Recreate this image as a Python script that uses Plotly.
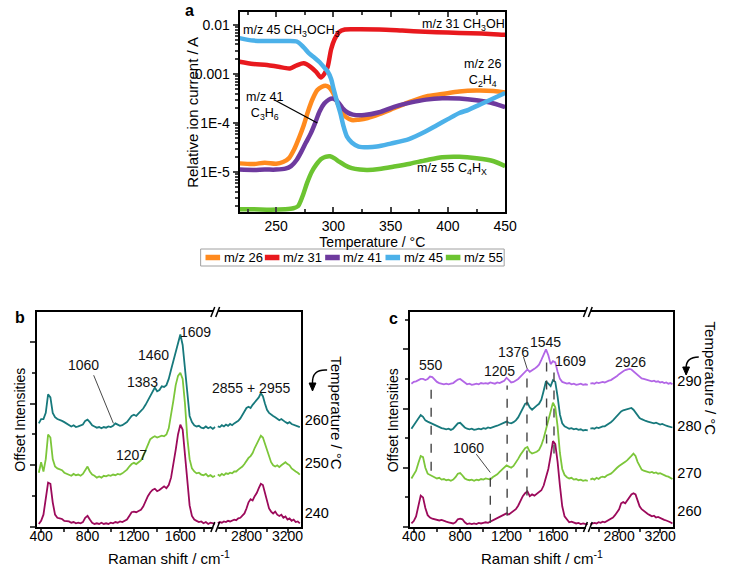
import plotly.graph_objects as go

W, H = 738, 570
FONT = "Arial, Liberation Sans, sans-serif"


def px(x):
    return x / W


def py(y):
    return 1 - y / H


# ---------------- Panel a: mass spectrometry ----------------
T26 = [218, 230, 240, 250, 256, 261, 266, 270, 274, 278, 282, 286, 290, 293, 296, 299, 302, 305, 308, 311,
       316, 322, 330, 340, 353, 365, 381, 395, 410, 425, 440, 450]
I26 = [1.5e-5, 1.45e-5, 1.55e-5, 1.48e-5, 1.6e-5, 1.9e-5, 3.0e-5, 5.0e-5, 8.9e-5, 1.78e-4, 3.16e-4, 4.7e-4,
       5.5e-4, 5.75e-4, 5.4e-4, 4.4e-4, 3.16e-4, 2.14e-4, 1.58e-4, 1.32e-4, 1.15e-4, 1.17e-4, 1.26e-4,
       1.51e-4, 2.0e-4, 2.6e-4, 3.5e-4, 3.9e-4, 4.4e-4, 4.6e-4, 4.5e-4, 4.2e-4]

T31 = [218, 230, 242, 252, 262, 268, 274, 280, 285, 289, 292, 295, 298, 301, 305, 310, 320, 340, 360, 380,
       400, 420, 440, 450]
I31 = [0.00178, 0.0016, 0.00153, 0.0014, 0.0013, 0.0015, 0.00165, 0.0014, 0.0011, 0.00085, 0.0010, 0.00141,
       0.0032, 0.0051, 0.0072, 0.0081, 0.0082, 0.0081, 0.0077, 0.0073, 0.0070, 0.0068, 0.0065, 0.0063]

T41 = [218, 230, 240, 250, 258, 263, 268, 272, 276, 280, 284, 288, 292, 296, 299, 302, 305, 308, 312, 317,
       327, 340, 353, 367, 381, 395, 410, 425, 440, 450]
I41 = [1.12e-5, 1.1e-5, 1.12e-5, 1.12e-5, 1.17e-5, 1.32e-5, 1.78e-5, 2.6e-5, 4.0e-5, 6.0e-5, 1.0e-4, 1.74e-4,
       2.5e-4, 3.0e-4, 3.16e-4, 2.95e-4, 2.5e-4, 2.0e-4, 1.66e-4, 1.48e-4, 1.45e-4, 1.66e-4, 2.14e-4,
       2.6e-4, 3.0e-4, 3.2e-4, 3.16e-4, 2.9e-4, 2.5e-4, 2.1e-4]

T45 = [218, 230, 240, 255, 268, 274, 279, 284, 288, 292, 295, 298, 300, 303, 306, 309, 312, 316, 322, 330,
       338, 350, 366, 380, 390, 400, 410, 418, 430, 440, 450]
I45 = [5.4e-3, 4.8e-3, 4.7e-3, 4.7e-3, 4.6e-3, 3.5e-3, 2.6e-3, 2.1e-3, 1.74e-3, 1.35e-3, 1.12e-3, 7.9e-4,
       5.1e-4, 2.8e-4, 1.6e-4, 8.3e-5, 5.2e-5, 4.0e-5, 3.3e-5, 3.2e-5, 3.3e-5, 3.8e-5, 4.7e-5, 6.6e-5,
       8.9e-5, 1.2e-4, 1.6e-4, 1.86e-4, 2.5e-4, 3.2e-4, 4.1e-4]

T55 = [218, 230, 245, 258, 265, 269, 273, 277, 281, 285, 289, 293, 297, 301, 305, 310, 316, 323, 330, 340,
       353, 367, 381, 395, 410, 425, 440, 450]
I55 = [1.74e-6, 1.74e-6, 1.7e-6, 1.74e-6, 1.82e-6, 2.0e-6, 3.2e-6, 6.0e-6, 1.0e-5, 1.41e-5, 1.82e-5,
       2.04e-5, 2.1e-5, 1.9e-5, 1.62e-5, 1.38e-5, 1.2e-5, 1.12e-5, 1.1e-5, 1.15e-5, 1.29e-5, 1.48e-5,
       1.74e-5, 2.0e-5, 2.04e-5, 1.9e-5, 1.66e-5, 1.32e-5]

MS_NAMES = ["m/z 26", "m/z 31", "m/z 41", "m/z 45", "m/z 55"]
MS_COLORS = ["#FF8A1E", "#E8191E", "#6E3A9E", "#4CB1E9", "#6CC431"]
A_YTICKS = [1e-5, 1e-4, 1e-3, 1e-2]
A_YTICKTEXT = ["1E-5", "1E-4", "0.001", "0.01"]
A_XTICKS = [250, 300, 350, 400, 450]

# ---------------- Raman wavenumber grids ----------------
WN_L = [380, 400, 420, 440, 460, 480, 500, 520, 540, 560, 580, 600, 620, 640, 660, 680, 700, 720, 740, 760,
        780, 800, 820, 840, 860, 880, 900, 920, 940, 960, 980, 1000, 1020, 1040, 1060, 1080, 1100, 1120,
        1140, 1160, 1180, 1200, 1220, 1240, 1260, 1280, 1300, 1320, 1340, 1360, 1380, 1400, 1420, 1440,
        1460, 1480, 1500, 1520, 1540, 1560, 1580, 1600, 1620, 1640, 1660, 1680, 1700, 1720, 1740, 1760,
        1780, 1800, 1820, 1840, 1860, 1880, 1900]
WN_R = [2520, 2540, 2560, 2580, 2600, 2620, 2640, 2660, 2680, 2700, 2720, 2740, 2760, 2780, 2800, 2820, 2840,
        2860, 2880, 2900, 2920, 2940, 2960, 2980, 3000, 3020, 3040, 3060, 3080, 3100, 3120, 3140, 3160,
        3180, 3200, 3220, 3240, 3260, 3280, 3300, 3320]

# ---------------- Panel b spectra (offset intensities) ----------------
B240_L = [0.05, 0.10, 0.20, 0.50, 0.72, 0.70, 0.40, 0.20, 0.15, 0.14, 0.13, 0.10, 0.10, 0.09, 0.07, 0.08,
          0.06, 0.07, 0.06, 0.08, 0.15, 0.18, 0.12, 0.07, 0.05, 0.06, 0.05, 0.07, 0.05, 0.06, 0.05, 0.07,
          0.06, 0.08, 0.07, 0.09, 0.08, 0.10, 0.12, 0.18, 0.24, 0.25, 0.24, 0.26, 0.28, 0.33, 0.42, 0.50,
          0.56, 0.60, 0.62, 0.58, 0.60, 0.63, 0.66, 0.63, 0.68, 0.80, 1.00, 1.25, 1.50, 1.66, 1.58, 1.20,
          0.70, 0.35, 0.18, 0.12, 0.10, 0.08, 0.09, 0.06, 0.08, 0.05, 0.07, 0.06, 0.05]
B240_R = [0.06, 0.08, 0.07, 0.09, 0.08, 0.10, 0.09, 0.10, 0.12, 0.11, 0.14, 0.15, 0.18, 0.22, 0.30, 0.40,
          0.45, 0.43, 0.50, 0.55, 0.63, 0.70, 0.68, 0.55, 0.42, 0.30, 0.25, 0.22, 0.25, 0.20, 0.18, 0.20,
          0.15, 0.17, 0.12, 0.14, 0.10, 0.12, 0.08, 0.09, 0.06]
B250_L = [0.88, 1.05, 0.90, 1.10, 1.50, 1.45, 1.10, 0.98, 0.95, 0.93, 0.92, 0.88, 0.86, 0.85, 0.83, 0.86,
          0.84, 0.85, 0.83, 0.86, 0.92, 0.98, 0.90, 0.85, 0.83, 0.80, 0.82, 0.80, 0.83, 0.82, 0.84, 0.83,
          0.85, 0.84, 0.86, 0.85, 0.87, 0.90, 0.93, 0.98, 1.02, 1.04, 1.02, 1.05, 1.08, 1.15, 1.25, 1.35,
          1.42, 1.45, 1.47, 1.45, 1.46, 1.48, 1.47, 1.50, 1.60, 1.80, 2.05, 2.30, 2.45, 2.50, 2.40, 2.00,
          1.45, 1.10, 0.95, 0.90, 0.87, 0.88, 0.85, 0.84, 0.86, 0.82, 0.84, 0.81, 0.83]
B250_R = [0.85, 0.83, 0.86, 0.84, 0.87, 0.86, 0.88, 0.87, 0.90, 0.90, 0.93, 0.95, 0.98, 1.02, 1.08, 1.12,
          1.15, 1.20, 1.28, 1.35, 1.42, 1.48, 1.45, 1.35, 1.22, 1.12, 1.05, 1.00, 0.98, 1.00, 0.97, 1.00,
          1.02, 1.05, 1.02, 1.00, 0.95, 0.92, 0.90, 0.88, 0.85]
B260_L = [1.68, 1.75, 1.75, 1.85, 2.15, 2.10, 1.85, 1.78, 1.75, 1.74, 1.72, 1.70, 1.68, 1.66, 1.63, 1.65,
          1.62, 1.63, 1.64, 1.66, 1.72, 1.74, 1.70, 1.65, 1.63, 1.61, 1.62, 1.60, 1.62, 1.61, 1.63, 1.62,
          1.64, 1.68, 1.66, 1.64, 1.65, 1.67, 1.70, 1.75, 1.80, 1.82, 1.80, 1.84, 1.88, 1.92, 1.98, 2.05,
          2.12, 2.20, 2.26, 2.20, 2.22, 2.28, 2.27, 2.30, 2.40, 2.55, 2.70, 2.85, 3.00, 3.12, 2.95, 2.55,
          2.10, 1.80, 1.70, 1.65, 1.63, 1.64, 1.61, 1.60, 1.63, 1.60, 1.62, 1.59, 1.62]
B260_R = [1.63, 1.62, 1.65, 1.63, 1.66, 1.64, 1.67, 1.65, 1.68, 1.70, 1.72, 1.76, 1.82, 1.88, 1.93, 1.95,
          1.93, 1.98, 2.02, 2.05, 2.10, 2.17, 2.12, 2.00, 1.90, 1.85, 1.82, 1.80, 1.78, 1.76, 1.73, 1.75,
          1.72, 1.70, 1.68, 1.70, 1.67, 1.66, 1.64, 1.63, 1.62]

# ---------------- Panel c spectra (offset intensities) ----------------
C260_L = [0.06, 0.10, 0.18, 0.35, 0.53, 0.50, 0.32, 0.20, 0.16, 0.14, 0.13, 0.12, 0.11, 0.12, 0.10, 0.09,
          0.08, 0.07, 0.06, 0.08, 0.13, 0.14, 0.13, 0.08, 0.05, 0.06, 0.05, 0.06, 0.05, 0.07, 0.06, 0.07,
          0.08, 0.07, 0.09, 0.10, 0.12, 0.14, 0.16, 0.18, 0.20, 0.23, 0.21, 0.24, 0.27, 0.30, 0.36, 0.44,
          0.52, 0.57, 0.60, 0.52, 0.55, 0.53, 0.56, 0.58, 0.62, 0.70, 0.82, 0.98, 1.20, 1.45, 1.40, 1.10,
          0.70, 0.35, 0.18, 0.12, 0.08, 0.09, 0.07, 0.06, 0.07, 0.05, 0.06, 0.05, 0.04]
C260_R = [0.05, 0.06, 0.07, 0.06, 0.08, 0.07, 0.09, 0.08, 0.10, 0.11, 0.13, 0.16, 0.20, 0.25, 0.30, 0.40,
          0.42, 0.40, 0.45, 0.50, 0.55, 0.57, 0.55, 0.45, 0.35, 0.30, 0.27, 0.25, 0.22, 0.20, 0.18, 0.19,
          0.16, 0.17, 0.15, 0.14, 0.12, 0.11, 0.10, 0.08, 0.06]
C270_L = [0.82, 0.88, 0.95, 1.08, 1.20, 1.18, 1.00, 0.90, 0.88, 0.86, 0.84, 0.82, 0.83, 0.80, 0.81, 0.79,
          0.80, 0.78, 0.80, 0.84, 0.90, 0.91, 0.87, 0.82, 0.80, 0.79, 0.80, 0.78, 0.80, 0.79, 0.81, 0.80,
          0.82, 0.81, 0.80, 0.84, 0.86, 0.89, 0.93, 0.97, 1.00, 1.04, 1.02, 1.00, 1.03, 1.08, 1.15, 1.22,
          1.28, 1.33, 1.35, 1.27, 1.24, 1.25, 1.27, 1.30, 1.38, 1.50, 1.65, 1.82, 1.98, 2.10, 2.02, 1.70,
          1.25, 0.98, 0.88, 0.84, 0.82, 0.83, 0.80, 0.81, 0.79, 0.80, 0.78, 0.79, 0.78]
C270_R = [0.80, 0.82, 0.80, 0.83, 0.81, 0.84, 0.85, 0.84, 0.87, 0.88, 0.90, 0.93, 0.97, 1.00, 1.03, 1.05,
          1.07, 1.10, 1.13, 1.16, 1.20, 1.24, 1.20, 1.10, 1.02, 0.97, 0.95, 0.94, 0.93, 0.92, 0.93, 0.91,
          0.92, 0.90, 0.91, 0.89, 0.88, 0.86, 0.85, 0.83, 0.81]
C280_L = [1.66, 1.72, 1.76, 1.84, 1.89, 1.86, 1.80, 1.78, 1.76, 1.75, 1.72, 1.70, 1.68, 1.67, 1.66, 1.65,
          1.66, 1.64, 1.66, 1.70, 1.75, 1.76, 1.72, 1.68, 1.66, 1.65, 1.66, 1.64, 1.65, 1.66, 1.65, 1.67,
          1.66, 1.68, 1.67, 1.69, 1.70, 1.71, 1.73, 1.74, 1.76, 1.78, 1.76, 1.75, 1.77, 1.80, 1.85, 1.92,
          2.00, 2.08, 2.10, 2.02, 1.98, 2.02, 2.05, 2.08, 2.15, 2.30, 2.46, 2.42, 2.38, 2.48, 2.45, 2.20,
          1.90, 1.75, 1.70, 1.68, 1.66, 1.67, 1.65, 1.66, 1.64, 1.65, 1.63, 1.64, 1.63]
C280_R = [1.66, 1.67, 1.66, 1.68, 1.67, 1.69, 1.70, 1.70, 1.72, 1.74, 1.77, 1.80, 1.84, 1.88, 1.92, 1.95,
          1.97, 1.98, 1.99, 2.00, 2.01, 1.98, 1.93, 1.88, 1.84, 1.82, 1.80, 1.79, 1.78, 1.77, 1.76, 1.75,
          1.76, 1.74, 1.73, 1.74, 1.72, 1.71, 1.70, 1.69, 1.68]
C290_L = [2.42, 2.45, 2.46, 2.48, 2.50, 2.50, 2.48, 2.50, 2.54, 2.53, 2.48, 2.45, 2.43, 2.42, 2.41, 2.42,
          2.41, 2.42, 2.43, 2.46, 2.49, 2.50, 2.47, 2.43, 2.41, 2.42, 2.40, 2.41, 2.42, 2.41, 2.43, 2.42,
          2.43, 2.42, 2.44, 2.43, 2.42, 2.44, 2.43, 2.45, 2.47, 2.52, 2.47, 2.44, 2.45, 2.47, 2.50, 2.54,
          2.58, 2.63, 2.66, 2.62, 2.64, 2.67, 2.70, 2.74, 2.82, 2.92, 3.00, 2.90, 2.75, 2.80, 2.78, 2.62,
          2.50, 2.45, 2.43, 2.42, 2.43, 2.41, 2.42, 2.40, 2.41, 2.42, 2.40, 2.41, 2.40]
C290_R = [2.42, 2.43, 2.42, 2.44, 2.43, 2.44, 2.45, 2.44, 2.46, 2.47, 2.48, 2.50, 2.52, 2.55, 2.58, 2.61,
          2.63, 2.65, 2.66, 2.67, 2.66, 2.63, 2.60, 2.56, 2.53, 2.51, 2.50, 2.49, 2.48, 2.47, 2.46, 2.47,
          2.45, 2.46, 2.44, 2.45, 2.43, 2.44, 2.42, 2.43, 2.41]

COL_MAROON = "#9C0A5B"
COL_LGREEN = "#7CC63A"
COL_TEAL = "#17797C"
COL_LAV = "#B266E6"

B_TEMPS = ["240", "250", "260"]
B_TEMP_POS = [0.23, 1.04, 1.73]
C_TEMPS = ["260", "270", "280", "290"]
C_TEMP_POS = [0.27, 0.92, 1.71, 2.47]

# ---------------- Geometry (pixels) ----------------
A_X = (238, 511)
A_Y = (12, 212)
B_XL = (30, 213.5)
B_XR = (213.5, 301)
C_XL = (413, 596.5)
C_XR = (596.5, 684)
BC_Y = (312, 527)

fig = go.Figure()

ms_T = [T26, T31, T41, T45, T55]
ms_I = [I26, I31, I41, I45, I55]
for name, col, t, v in zip(MS_NAMES, MS_COLORS, ms_T, ms_I):
    fig.add_trace(go.Scatter(x=t, y=v, name=name, mode="lines",
                             line=dict(color=col, width=4.5, shape="spline", smoothing=0.8),
                             xaxis="x", yaxis="y", showlegend=False))


def spec(xs, ys, col, xa, ya):
    fig.add_trace(go.Scatter(x=xs, y=ys, mode="lines", line=dict(color=col, width=1.8),
                             xaxis=xa, yaxis=ya, showlegend=False, hoverinfo="skip"))


for L, R, col in [(B240_L, B240_R, COL_MAROON), (B250_L, B250_R, COL_LGREEN), (B260_L, B260_R, COL_TEAL)]:
    spec(WN_L, L, col, "x2", "y2")
    spec(WN_R, R, col, "x3", "y3")
for L, R, col in [(C260_L, C260_R, COL_MAROON), (C270_L, C270_R, COL_LGREEN),
                  (C280_L, C280_R, COL_TEAL), (C290_L, C290_R, COL_LAV)]:
    spec(WN_L, L, col, "x4", "y4")
    spec(WN_R, R, col, "x5", "y5")

tickfont = dict(family=FONT, size=14, color="black")
tickfont_bc = dict(family=FONT, size=14, color="black")
titlefont = dict(family=FONT, size=14, color="black")


def xdom(p):
    return [px(p[0]), px(p[1])]


def ydom(p):
    return [py(p[1]), py(p[0])]


minor_log = []
for dec in [1e-6, 1e-5, 1e-4, 1e-3]:
    for k in range(2, 10):
        minor_log.append(k * dec)

common = dict(showgrid=False, zeroline=False, linecolor="black", linewidth=2)


def raman_x(dom, rng, major, minor):
    return dict(domain=xdom(dom), range=rng, tickvals=major, ticks="outside", ticklen=4, tickwidth=1.5,
                mirror=True, showline=True, ticklabelstandoff=-9,
                minor=dict(ticks="outside", ticklen=3, tickvals=minor),
                tickfont=tickfont_bc, **common)


def raman_y(rng, minor, xa):
    return dict(domain=ydom(BC_Y), anchor=xa, range=rng, tickvals=[0, 1, 2, 3], showticklabels=False,
                ticks="outside", ticklen=5, tickwidth=1.5, showline=True, mirror=False,
                minor=dict(ticks="outside", ticklen=3, tickvals=minor), **common)


def temp_y(rng, xa, vals, text):
    return dict(domain=ydom(BC_Y), anchor=xa, range=rng, side="right", showline=True, mirror=False,
                ticks="", tickvals=vals, ticktext=text, ticklabelstandoff=-1,
                tickfont=dict(family=FONT, size=14.5, color="black"), **common)


fig.update_layout(
    width=W, height=H, autosize=False,
    margin=dict(l=0, r=0, t=0, b=0),
    paper_bgcolor="white", plot_bgcolor="white",
    font=dict(family=FONT, size=13, color="black"),
    showlegend=False,
    xaxis=dict(domain=xdom(A_X), anchor="y", range=[218, 450], tickvals=A_XTICKS,
               ticks="inside", ticklen=5, tickwidth=1.5, mirror="ticks", showline=True,
               minor=dict(ticks="inside", ticklen=3, dtick=25, tick0=225, showgrid=False),
               tickfont=tickfont, title=dict(text="Temperature / °C", font=titlefont, standoff=0), **common),
    yaxis=dict(domain=ydom(A_Y), anchor="x", type="log", range=[-5.816, -1.735], tickvals=A_YTICKS,
               ticktext=A_YTICKTEXT, ticks="outside", ticklen=5, tickwidth=1.5, mirror=True, showline=True,
               minor=dict(ticks="outside", ticklen=3, tickvals=minor_log, showgrid=False),
               tickfont=tickfont, **common),
    xaxis2=dict(anchor="y2", **raman_x(B_XL, [366, 1905], [400, 800, 1200, 1600], [600, 1000, 1400, 1800])),
    yaxis2=raman_y([0, 3.485], [0.5, 1.5, 2.5], "x2"),
    xaxis3=dict(anchor="y3", **raman_x(B_XR, [2500, 3330], [2800, 3200], [2600, 3000])),
    yaxis3=temp_y([0, 3.485], "x3", B_TEMP_POS, B_TEMPS),
    xaxis4=dict(anchor="y4", **raman_x(C_XL, [366, 1905], [400, 800, 1200, 1600], [600, 1000, 1400, 1800])),
    yaxis4=raman_y([0, 3.63], [0.5, 1.5, 2.5, 3.5], "x4"),
    xaxis5=dict(anchor="y5", **raman_x(C_XR, [2500, 3330], [2800, 3200], [2600, 3000])),
    yaxis5=temp_y([0, 3.63], "x5", C_TEMP_POS, C_TEMPS),
)

ann = []


def paper_text(x, y, text, size=13, anchor="left", bold=False, angle=0):
    ann.append(dict(x=px(x), y=py(y), xref="paper", yref="paper", text=("<b>%s</b>" % text) if bold else text,
                    showarrow=False, xanchor=anchor, yanchor="middle", textangle=angle,
                    font=dict(family=FONT, size=size, color="black")))


def data_text(x, y, text, xr, yr, size=14):
    ann.append(dict(x=x, y=y, xref=xr, yref=yr, text=text, showarrow=False, xanchor="center",
                    yanchor="middle", font=dict(family=FONT, size=size, color="#111")))


# panel labels
paper_text(187, 10, "a", 16, "center", True)
paper_text(12, 317, "b", 16, "center", True)
paper_text(396, 318, "c", 16, "center", True)

# y titles
paper_text(190, 112, "Relative ion current / A", 15, "center", angle=-90)
paper_text(12, 420, "Offset Intensities", 14, "center", angle=-90)
paper_text(396, 420, "Offset Intensities", 14, "center", angle=-90)

# panel a labels
paper_text(240, 31, "m/z 45 CH<sub>3</sub>OCH<sub>3</sub>", 12.5)
paper_text(423, 25, "m/z 31 CH<sub>3</sub>OH", 12.5)
paper_text(467, 73, "m/z 26<br>C<sub>2</sub>H<sub>4</sub>", 12.5)
paper_text(243, 106, "m/z 41<br>C<sub>3</sub>H<sub>6</sub>", 12.5)
paper_text(418, 169, "m/z 55 C<sub>4</sub>H<sub>X</sub>", 12.5)

# legend for panel a (drawn as a boxed key under the axis)
LEG_BOX = (198, 249, 510, 266)
LEG_LINE_X = [201, 262, 324, 386, 448]
LEG_CY = 257.5

# x titles and right temperature titles for b and c
paper_text(165.5, 557, "Raman shift / cm<sup>-1</sup>", 15, "center")
paper_text(548.5, 557, "Raman shift / cm<sup>-1</sup>", 15, "center")
paper_text(338, 413, "Temperature / °C", 15, "center", angle=90)
paper_text(723, 379, "Temperature / °C", 15, "center", angle=90)

# panel b peak labels
data_text(1733, 3.16, "1609", "x2", "y2")
data_text(1373, 2.79, "1460", "x2", "y2")
data_text(1272, 2.35, "1383", "x2", "y2")
data_text(769, 2.63, "1060", "x2", "y2")
data_text(1180, 1.17, "1207", "x2", "y2")
data_text(2846, 2.25, "2855 + 2955", "x3", "y3")

# panel c peak labels
data_text(548, 2.73, "550", "x4", "y4")
data_text(1135, 2.64, "1205", "x4", "y4")
data_text(1262, 2.95, "1376", "x4", "y4")
data_text(1540, 3.12, "1545", "x4", "y4")
data_text(1750, 2.81, "1609", "x4", "y4")
data_text(869, 1.34, "1060", "x4", "y4")
data_text(2910, 2.78, "2926", "x5", "y5")

shapes = []

# legend box and keys
shapes.append(dict(type="rect", xref="paper", yref="paper", x0=px(LEG_BOX[0]), x1=px(LEG_BOX[2]),
                   y0=py(LEG_BOX[3]), y1=py(LEG_BOX[1]), line=dict(color="#A0A0A0", width=1),
                   fillcolor="white"))
for lx, col, name in zip(LEG_LINE_X, MS_COLORS, MS_NAMES):
    shapes.append(dict(type="line", xref="paper", yref="paper", x0=px(lx + 2), x1=px(lx + 17),
                       y0=py(LEG_CY), y1=py(LEG_CY), line=dict(color=col, width=5.5)))
    paper_text(lx + 18.5, LEG_CY, name, 13)

# leader lines
shapes.append(dict(type="line", xref="paper", yref="paper", x0=px(274), y0=py(100), x1=px(318), y1=py(123),
                   line=dict(color="black", width=1.3)))
shapes.append(dict(type="line", xref="x2", yref="y2", x0=853, y0=2.46, x1=1023, y1=1.68,
                   line=dict(color="#333", width=0.9)))
shapes.append(dict(type="line", xref="x4", yref="y4", x0=1346, y0=2.87, x1=1378, y1=2.67,
                   line=dict(color="#333", width=0.9)))
shapes.append(dict(type="line", xref="x4", yref="y4", x0=939, y0=1.23, x1=1060, y1=0.92,
                   line=dict(color="#333", width=0.9)))

# dashed peak markers in c
for wn, y0, y1 in [(550, 0.95, 2.42), (1205, 0.19, 2.39), (1376, 0.53, 2.64), (1545, 1.41, 2.86),
                   (1609, 1.24, 2.76), (1060, 0.07, 0.92)]:
    shapes.append(dict(type="line", xref="x4", yref="y4", x0=wn, x1=wn, y0=y0, y1=y1,
                       line=dict(color="#444", width=1.4, dash="dash")))

# axis break marks
for bx in [213.5, 596.5]:
    for by in [BC_Y[0], BC_Y[1]]:
        shapes.append(dict(type="rect", xref="paper", yref="paper", x0=px(bx - 2.5), x1=px(bx + 2.5),
                           y0=py(by + 2), y1=py(by - 2), fillcolor="white", line=dict(width=0), layer="above"))
        for dx in [-3, 2]:
            shapes.append(dict(type="line", xref="paper", yref="paper", x0=px(bx + dx - 2), y0=py(by + 5),
                               x1=px(bx + dx + 2), y1=py(by - 5), line=dict(color="black", width=1.5)))


# curved arrows (temperature direction)
def arrow(x0, y0, cx, cy, x1, y1):
    shapes.append(dict(type="path", xref="paper", yref="paper",
                       path="M %f,%f Q %f,%f %f,%f" % (px(x0), py(y0), px(cx), py(cy), px(x1), py(y1)),
                       line=dict(color="black", width=1.5)))
    shapes.append(dict(type="path", xref="paper", yref="paper",
                       path="M %f,%f L %f,%f L %f,%f Z" % (px(x1), py(y1 + 7), px(x1 - 3.5), py(y1 - 1),
                                                          px(x1 + 3.5), py(y1 - 1)),
                       fillcolor="black", line=dict(color="black", width=1)))


arrow(328, 370, 312, 369, 313, 384)
arrow(710, 357, 697, 357, 697, 368)

fig.update_layout(annotations=ann, shapes=shapes)
fig.write_html("out.html", config={"displayModeBar": False},
               post_script="document.body.style.margin='0px';")
